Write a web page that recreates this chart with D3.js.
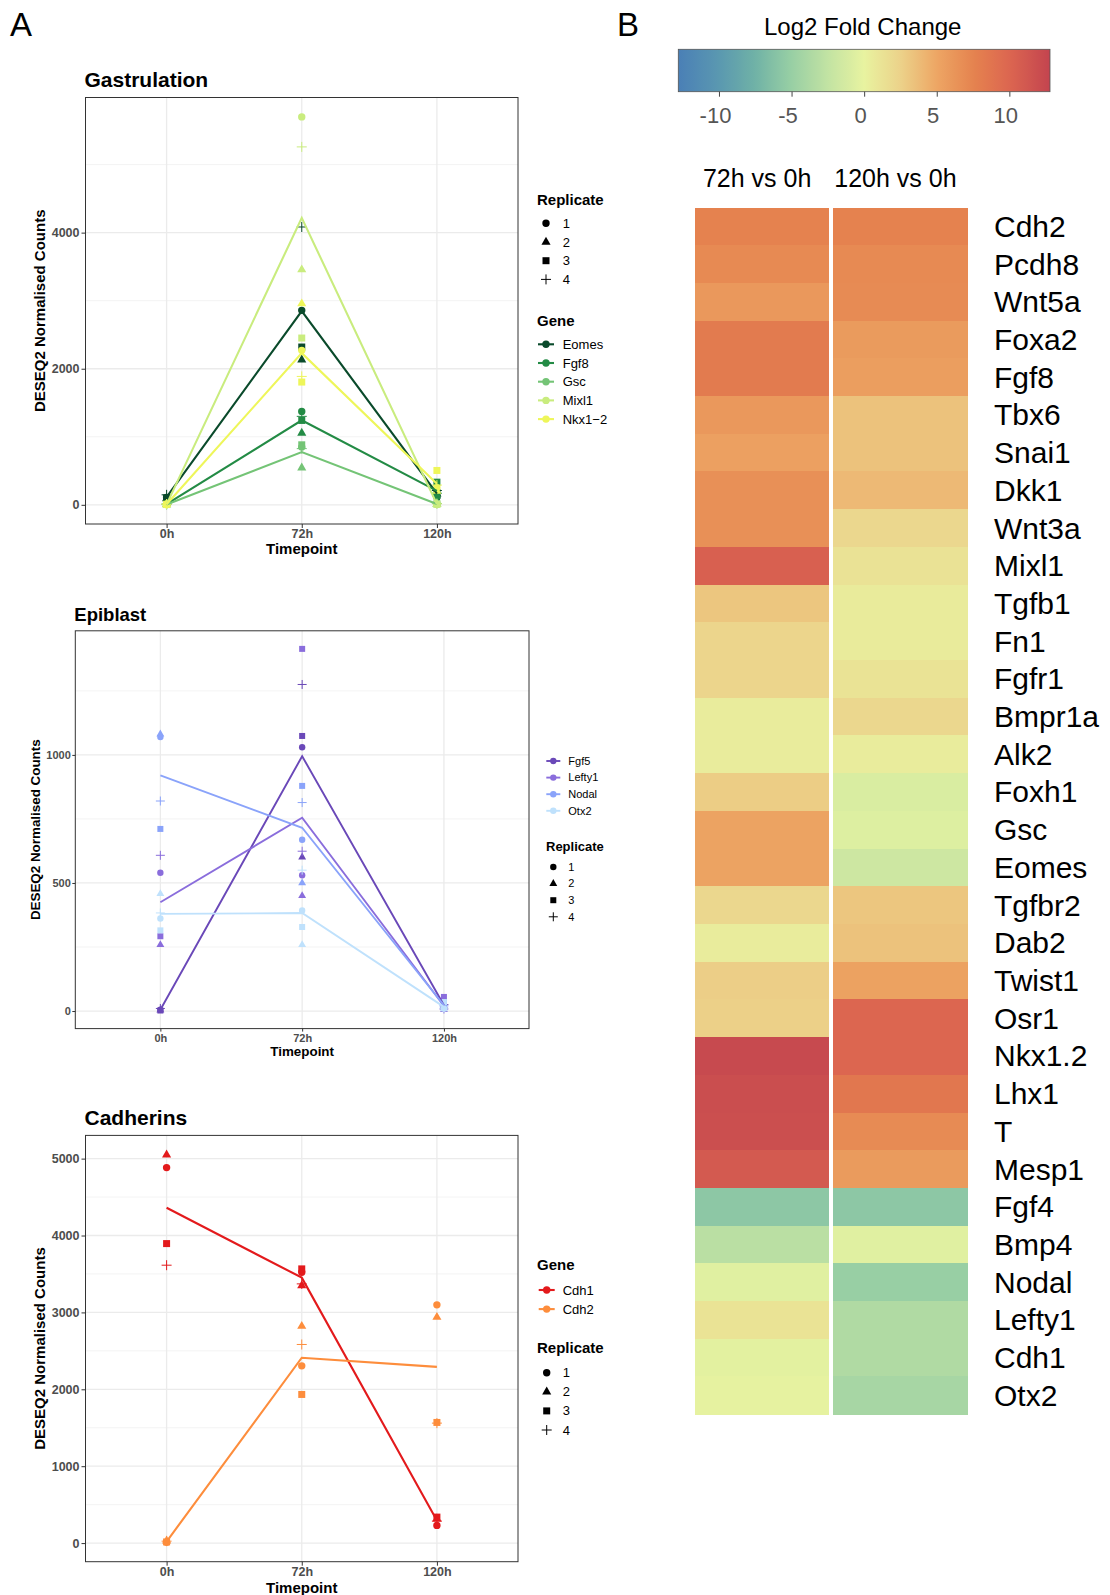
<!DOCTYPE html>
<html><head><meta charset="utf-8">
<script src="https://cdn.jsdelivr.net/npm/d3@7"></script>
<style>
body{margin:0;background:#fff}
svg{display:block}
text{font-family:"Liberation Sans",Arial,Helvetica,sans-serif}
</style>
</head><body>
<svg id="c" width="1110" height="1595"></svg>
<script>
// ---------------- DATA ----------------
const timepoints = ["0h", "72h", "120h"];
const replicates = ["1", "2", "3", "4"];

// Gastrulation (values: 0h r1..r4, 72h r1..r4, 120h r1..r4)
const gastroGenes = ["Eomes", "Fgf8", "Gsc", "Mixl1", "Nkx1\u22122"];
const eomesCounts = [110, 90, 100, 147, 2858, 2132, 2319, 4083, 113, 160, 180, 210];
const fgf8Counts  = [10, 5, 8, 12, 1373, 1054, 1240, 1300, 120, 200, 333, 170];
const gscCounts   = [5, 3, 6, 4, 848, 544, 882, 826, 10, 5, 15, 20];
const mixl1Counts = [5, 8, 4, 10, 5701, 3456, 2451, 5260, 10, 5, 8, 15];
const nkx12Counts = [10, 5, 8, 12, 2270, 2956, 1804, 1887, 250, 200, 505, 290];

// Epiblast
const epiGenes = ["Fgf5", "Lefty1", "Nodal", "Otx2"];
const fgf5Counts   = [5, 3, 2, 10, 1030, 601, 1074, 1275, 15, 20, 30, 25];
const lefty1Counts = [540, 259, 292, 608, 530, 450, 1414, 624, 10, 5, 55, 8];
const nodalCounts  = [1070, 1081, 711, 820, 669, 500, 879, 814, 20, 15, 35, 20];
const otx2Counts   = [361, 458, 315, 383, 393, 259, 328, 550, 10, 8, 35, 12];

// Cadherins
const cadGenes = ["Cdh1", "Cdh2"];
const cdh1Counts = [4883, 5050, 3895, 3614, 3523, 3349, 3566, 3371, 230, 316, 338, 286];
const cdh2Counts = [10, 30, 15, 25, 2305, 2821, 1933, 2583, 3098, 2938, 1569, 1560];

// Heatmap (log2 fold change)
const comparisons = ["72h vs 0h", "120h vs 0h"];
const heatGenes = ["Cdh2","Pcdh8","Wnt5a","Foxa2","Fgf8","Tbx6","Snai1","Dkk1","Wnt3a","Mixl1",
  "Tgfb1","Fn1","Fgfr1","Bmpr1a","Alk2","Foxh1","Gsc","Eomes","Tgfbr2","Dab2","Twist1","Osr1",
  "Nkx1.2","Lhx1","T","Mesp1","Fgf4","Bmp4","Nodal","Lefty1","Cdh1","Otx2"];
const lfc72  = [7.6, 7.0, 6.0, 8.2, 8.2, 6.0, 5.4, 6.6, 6.6, 10.5,
  3.2, 2.3, 2.3, 0.5, 0.5, 2.8, 5.2, 5.2, 2.1, 0.5, 2.7, 2.6,
  12.3, 12.0, 11.9, 11.0, -5.7, -3.0, -0.5, 1.2, -0.3, -0.1];
const lfc120 = [7.6, 7.0, 6.9, 5.8, 5.6, 3.4, 3.4, 3.9, 2.1, 1.3,
  0.6, 0.6, 1.2, 2.1, 0.5, -1.0, -0.7, -1.8, 3.2, 3.4, 5.3, 10.0,
  10.0, 8.5, 6.9, 5.8, -5.7, -0.5, -5.0, -3.6, -3.6, -4.1];
const colorTicks = [-10, -5, 0, 5, 10];
const colorDomain = [-12.8, 12.8];

// ---------------- DRAWING ----------------
const svg = d3.select("#c");
svg.append("rect").attr("width", 1110).attr("height", 1595).attr("fill", "#fff");

function toRecords(genes, arrays) {
  const recs = [];
  genes.forEach((g, gi) => {
    timepoints.forEach((t, ti) => {
      replicates.forEach((r, ri) => {
        recs.push({gene: g, time: t, rep: r, value: arrays[gi][ti * 4 + ri]});
      });
    });
  });
  return recs;
}

function shapePath(rep, s) {
  if (rep === "1") return d3.symbol(d3.symbolCircle, Math.PI * s.r * s.r)();
  if (rep === "2") return d3.symbol(d3.symbolTriangle, s.tri)();
  if (rep === "3") return d3.symbol(d3.symbolSquare, s.sq * s.sq)();
  const a = s.plus;
  return `M${-a},0H${a}M0,${-a}V${a}`;
}

function drawPanel(o) {
  const g = svg.append("g");
  const recs = toRecords(o.genes, o.arrays);
  const color = d3.scaleOrdinal().domain(o.genes).range(o.colors);
  const x = d3.scalePoint().domain(timepoints).range([o.x0, o.x1]).padding(0.6);
  const ext = d3.extent(recs, d => d.value);
  const pad = (ext[1] - ext[0]) * 0.05;
  const y = d3.scaleLinear().domain([ext[0] - pad, ext[1] + pad]).range([o.y1, o.y0]);

  // grid
  const minor = [];
  for (let i = 0; i < o.major.length; i++) {
    const m = o.major[i] + o.step / 2;
    if (m < y.domain()[1]) minor.push(m);
  }
  g.selectAll(".gmin").data(minor).enter().append("line")
    .attr("x1", o.x0).attr("x2", o.x1).attr("y1", d => y(d)).attr("y2", d => y(d))
    .attr("stroke", "#f0f0f0").attr("stroke-width", 0.8);
  g.selectAll(".gmaj").data(o.major).enter().append("line")
    .attr("x1", o.x0).attr("x2", o.x1).attr("y1", d => y(d)).attr("y2", d => y(d))
    .attr("stroke", "#ebebeb").attr("stroke-width", 1.3);
  g.selectAll(".gx").data(timepoints).enter().append("line")
    .attr("x1", d => x(d)).attr("x2", d => x(d)).attr("y1", o.y0).attr("y2", o.y1)
    .attr("stroke", "#ebebeb").attr("stroke-width", 1.3);

  // points
  const s = o.sym;
  g.selectAll(".pt").data(recs).enter().append("path")
    .attr("transform", d => `translate(${x(d.time)},${y(d.value)})`)
    .attr("d", d => shapePath(d.rep, s))
    .attr("fill", d => d.rep === "4" ? "none" : color(d.gene))
    .attr("stroke", d => d.rep === "4" ? color(d.gene) : "none")
    .attr("stroke-width", 1);

  // mean lines
  const means = o.genes.map(gn => ({
    gene: gn,
    pts: timepoints.map(t => ({t, v: d3.mean(recs.filter(r => r.gene === gn && r.time === t), r => r.value)}))
  }));
  const line = d3.line().x(d => x(d.t)).y(d => y(d.v));
  g.selectAll(".ln").data(means).enter().append("path")
    .attr("d", d => line(d.pts)).attr("fill", "none")
    .attr("stroke", d => color(d.gene)).attr("stroke-width", o.lw);

  // border
  g.append("rect").attr("x", o.x0).attr("y", o.y0).attr("width", o.x1 - o.x0).attr("height", o.y1 - o.y0)
    .attr("fill", "none").attr("stroke", "#333").attr("stroke-width", 1);

  // axes
  const ya = g.append("g").attr("transform", `translate(${o.x0},0)`)
    .call(d3.axisLeft(y).tickValues(o.major).tickSize(o.tick).tickPadding(o.tickPad).tickFormat(d3.format("d")));
  const xa = g.append("g").attr("transform", `translate(0,${o.y1})`)
    .call(d3.axisBottom(x).tickSize(o.tick).tickPadding(o.xTickPad));
  [ya, xa].forEach(a => {
    a.select(".domain").remove();
    a.selectAll("line").attr("stroke", "#333");
    a.selectAll("text").attr("fill", "#4d4d4d").attr("font-size", o.tickFs).attr("font-weight", "bold")
      .style("font-family", '"Liberation Sans",Arial,sans-serif');
  });

  // titles
  g.append("text").attr("x", o.x0 - 1).attr("y", o.titleY).text(o.title)
    .attr("font-size", o.titleFs).attr("font-weight", "bold").attr("fill", "#000");
  g.append("text").attr("x", (o.x0 + o.x1) / 2).attr("y", o.xlabY).attr("text-anchor", "middle")
    .text("Timepoint").attr("font-size", o.axFs).attr("font-weight", "bold");
  g.append("text").attr("transform", `translate(${o.ylabX},${(o.y0 + o.y1) / 2}) rotate(-90)`)
    .attr("text-anchor", "middle").attr("dy", "0.35em")
    .text("DESEQ2 Normalised Counts").attr("font-size", o.axFs).attr("font-weight", "bold");

  // legends
  const L = o.legend;
  const lg = svg.append("g");
  if (L.geneTitleY != null) {
    lg.append("text").attr("x", L.titleX).attr("y", L.geneTitleY).text("Gene")
      .attr("font-size", L.titleFs).attr("font-weight", "bold");
  }
  o.genes.forEach((gn, i) => {
    const yy = L.geneY + i * L.step;
    lg.append("line").attr("x1", L.symX - L.keyHalf).attr("x2", L.symX + L.keyHalf)
      .attr("y1", yy).attr("y2", yy).attr("stroke", color(gn)).attr("stroke-width", o.lw);
    lg.append("circle").attr("cx", L.symX).attr("cy", yy).attr("r", s.r).attr("fill", color(gn));
    lg.append("text").attr("x", L.labelX).attr("y", yy).attr("dy", "0.35em").text(gn)
      .attr("font-size", L.labelFs);
  });
  lg.append("text").attr("x", L.titleX).attr("y", L.repTitleY).text("Replicate")
    .attr("font-size", L.titleFs).attr("font-weight", "bold");
  replicates.forEach((r, i) => {
    const yy = L.repY + i * L.step;
    lg.append("path").attr("transform", `translate(${L.symX},${yy})`).attr("d", shapePath(r, s))
      .attr("fill", r === "4" ? "none" : "#000").attr("stroke", r === "4" ? "#000" : "none").attr("stroke-width", 1);
    lg.append("text").attr("x", L.labelX).attr("y", yy).attr("dy", "0.35em").text(r)
      .attr("font-size", L.labelFs);
  });
}

const symBig = {r: 3.7, tri: 36, sq: 7, plus: 5};
const symSmall = {r: 3.2, tri: 27, sq: 6, plus: 4.5};

drawPanel({
  genes: gastroGenes, arrays: [eomesCounts, fgf8Counts, gscCounts, mixl1Counts, nkx12Counts],
  colors: ["#0a4a2b", "#238b45", "#74c476", "#c9ec7e", "#eef65a"],
  x0: 85.5, x1: 518, y0: 97.5, y1: 524, major: [0, 2000, 4000], step: 2000,
  tick: 4, tickPad: 2, xTickPad: 1.5, tickFs: 12.5, lw: 2.1, sym: symBig,
  title: "Gastrulation", titleY: 87, titleFs: 21, axFs: 15, xlabY: 554, ylabX: 40,
  legend: {titleX: 537, titleFs: 15, labelFs: 13, symX: 546, labelX: 562.7, keyHalf: 8, step: 18.7,
    repTitleY: 205, repY: 223.3, geneTitleY: 325.7, geneY: 344.3}
});

drawPanel({
  genes: epiGenes, arrays: [fgf5Counts, lefty1Counts, nodalCounts, otx2Counts],
  colors: ["#6a48b8", "#8a6ddc", "#8aa3fa", "#bfe1fc"],
  x0: 75.3, x1: 529, y0: 630.8, y1: 1028.6, major: [0, 500, 1000], step: 500,
  tick: 3, tickPad: 1.5, xTickPad: 2.5, tickFs: 11, lw: 1.9, sym: symSmall,
  title: "Epiblast", titleY: 621, titleFs: 18.5, axFs: 13.4, xlabY: 1056, ylabX: 35.6,
  legend: {titleX: 546, titleFs: 13, labelFs: 11, symX: 553.3, labelX: 568.3, keyHalf: 7, step: 16.6,
    repTitleY: 851, repY: 867, geneTitleY: null, geneY: 761}
});

drawPanel({
  genes: cadGenes, arrays: [cdh1Counts, cdh2Counts],
  colors: ["#e31a1c", "#fd8d3c"],
  x0: 85.5, x1: 518, y0: 1135.4, y1: 1561.7, major: [0, 1000, 2000, 3000, 4000, 5000], step: 1000,
  tick: 4, tickPad: 2, xTickPad: 1.5, tickFs: 12.5, lw: 2.1, sym: symBig,
  title: "Cadherins", titleY: 1125, titleFs: 21, axFs: 15, xlabY: 1593, ylabX: 40,
  legend: {titleX: 537, titleFs: 15, labelFs: 13, symX: 546.7, labelX: 562.7, keyHalf: 8, step: 19.1,
    repTitleY: 1353.3, repY: 1372.7, geneTitleY: 1270, geneY: 1290}
});

// panel letters
svg.append("text").attr("x", 10).attr("y", 36).text("A").attr("font-size", 33);
svg.append("text").attr("x", 617).attr("y", 36).text("B").attr("font-size", 33);

// ---------------- HEATMAP ----------------
const stopVals = [-12.8, -10, -7.5, -5, -2.5, 0, 2.5, 5, 7.5, 10, 12.8];
const stopCols = ["#4a7fb6", "#5a98b0", "#70b2a6", "#98cfa4", "#c2e3a3", "#e8f3a0", "#ecd28a", "#eda664", "#e5834f", "#dc6650", "#c3444f"];
const fill = d3.scaleLinear().domain(stopVals).range(stopCols).interpolate(d3.interpolateRgb).clamp(true);

const hx = d3.scaleBand().domain(comparisons).range([695, 967.6]).paddingInner(0.03);
const hy = d3.scaleBand().domain(heatGenes).range([207.5, 1414.2]);
const cells = [];
heatGenes.forEach((gn, i) => {
  cells.push({gene: gn, comp: comparisons[0], v: lfc72[i]});
  cells.push({gene: gn, comp: comparisons[1], v: lfc120[i]});
});
const hg = svg.append("g");
hg.selectAll("rect").data(cells).enter().append("rect")
  .attr("x", d => hx(d.comp)).attr("y", d => hy(d.gene))
  .attr("width", hx.bandwidth()).attr("height", hy.bandwidth() + 0.5)
  .attr("fill", d => fill(d.v)).attr("shape-rendering", "crispEdges");
hg.selectAll(".rl").data(heatGenes).enter().append("text")
  .attr("x", 994).attr("y", d => hy(d) + hy.bandwidth() / 2).attr("dy", "0.35em")
  .text(d => d).attr("font-size", 30).attr("fill", "#000");
hg.selectAll(".cl").data(comparisons).enter().append("text")
  .attr("x", d => hx(d) + hx.bandwidth() / 2 - 5).attr("y", 187).attr("text-anchor", "middle")
  .text(d => d).attr("font-size", 25).attr("fill", "#000");

// colour bar
const cb = d3.scaleLinear().domain(colorDomain).range([678.3, 1050]);
const defs = svg.append("defs");
const grad = defs.append("linearGradient").attr("id", "lfcgrad").attr("x1", "0%").attr("x2", "100%").attr("y1", "0%").attr("y2", "0%");
d3.range(0, 1.0001, 0.02).forEach(t => {
  const v = colorDomain[0] + t * (colorDomain[1] - colorDomain[0]);
  grad.append("stop").attr("offset", (t * 100) + "%").attr("stop-color", fill(v));
});
svg.append("rect").attr("x", cb(colorDomain[0])).attr("y", 49.3)
  .attr("width", cb(colorDomain[1]) - cb(colorDomain[0])).attr("height", 42.4)
  .attr("fill", "url(#lfcgrad)").attr("stroke", "#555").attr("stroke-width", 0.8);
const cax = svg.append("g").attr("transform", "translate(0,91.7)")
  .call(d3.axisBottom(cb).tickValues(colorTicks).tickSize(5).tickPadding(10.5).tickFormat(d => String(d)));
cax.select(".domain").remove();
cax.selectAll("line").attr("stroke", "#444");
cax.selectAll("text").attr("font-size", 22).attr("fill", "#555").attr("dx", -4)
  .style("font-family", '"Liberation Sans",Arial,sans-serif');
svg.append("text").attr("x", 862.7).attr("y", 35).attr("text-anchor", "middle")
  .text("Log2 Fold Change").attr("font-size", 24).attr("fill", "#000");
</script>
</body></html>
